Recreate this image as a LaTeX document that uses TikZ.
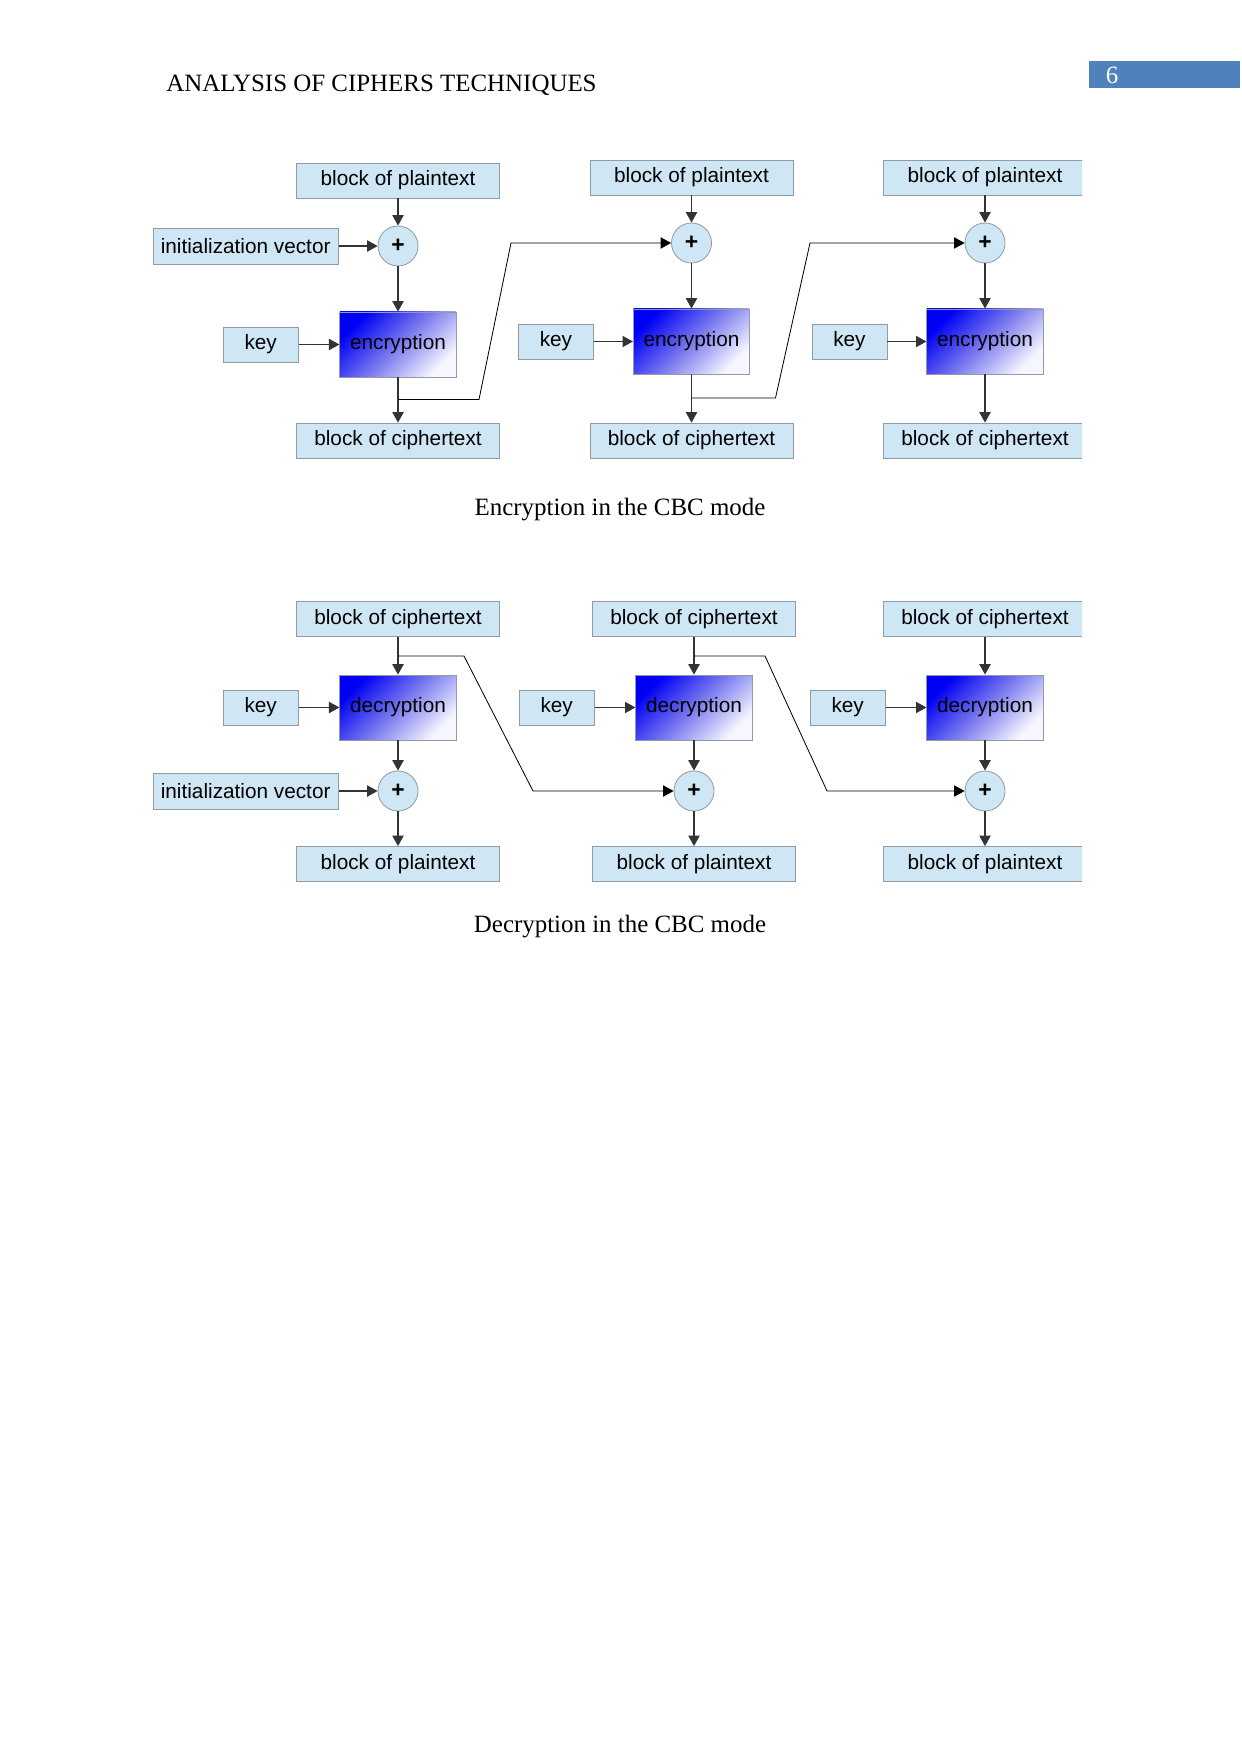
\documentclass[tikz,border=0pt]{standalone}
\usepackage{fontspec}
\setmainfont{Liberation Serif}
\setsansfont{Liberation Sans}
\usetikzlibrary{arrows.meta,positioning,calc}
\definecolor{cbcbox}{RGB}{207,231,245}
\definecolor{cbcline}{RGB}{145,155,165}
\definecolor{pagebar}{RGB}{79,129,189}
\tikzset{
  cbcarr/.style={-{Triangle[length=5pt,width=5.4pt]}, line width=0.6pt, draw=black!80},
  cbcfeed/.style={cbcarr, line width=0.4pt, draw=black},
  cbcnode/.style={draw=cbcline, fill=cbcbox, inner sep=0pt, font=\sffamily\fontsize{10}{12}\selectfont},
}

\begin{document}
\begin{tikzpicture}[
  x=0.016922cm, y=-0.016922cm,
  blk/.style={cbcnode, minimum width=34.35mm, minimum height=5.92mm},
  keyb/.style={cbcnode, minimum width=12.7mm, minimum height=5.9mm},
  ivb/.style={cbcnode, minimum width=31.3mm, minimum height=6.1mm},
  xorc/.style={cbcnode, circle, minimum size=6.77mm, font=\sffamily\bfseries\fontsize{11}{12}\selectfont},
  ciph/.style={draw=cbcline, inner sep=0pt, minimum width=19.7mm, minimum height=11mm,
    top color={rgb,255:red,0;green,0;blue,245}, bottom color={rgb,255:red,246;green,246;blue,255},
    middle color={rgb,255:red,120;green,120;blue,238}, shading angle=45,
    font=\sffamily\fontsize{10}{12}\selectfont},
  capt/.style={font=\fontsize{12}{14}\selectfont},
]
  \useasboundingbox (0,0) rectangle (1241,1754);

  % page head
  \node[capt, anchor=west, inner sep=0pt] (head) at (166,85) {ANALYSIS OF CIPHERS TECHNIQUES};
  \node[fill=pagebar, inner sep=0pt, minimum width=25.55mm, minimum height=4.57mm] (pgbar) at (1164.5,74.5) {};
  \node[capt, text=white] (pgnum) at (1112,75) {6};

  \begin{scope}
  \clip (0,0) rectangle (1082,1754);

  % encryption
  \node[blk] (P1) at (398,180.5) {block of plaintext};
  \node[xorc] (X1) at (398,246) {+};
  \node[ciph] (E1) at (398,344.5) {encryption};
  \node[keyb, left=6.9mm of E1] (K1) {key};
  \node[ivb, left=6.6mm of X1] (IV1) {initialization vector};
  \node[blk] (C1) at (398,440.5) {block of ciphertext};
  \foreach \i/\xx in {2/691.5,3/985} {
    \node[blk] (P\i) at (\xx,177.5) {block of plaintext};
    \node[xorc] (X\i) at (\xx,243) {+};
    \node[ciph] (E\i) at (\xx,341.5) {encryption};
    \node[keyb, left=6.6mm of E\i] (K\i) {key};
    \node[blk] (C\i) at (\xx,440.5) {block of ciphertext};
  }
  \foreach \i in {1,2,3} {
    \draw[cbcarr] (P\i) -- (X\i);
    \draw[cbcarr] (X\i) -- (E\i);
    \draw[cbcarr] (K\i) -- (E\i);
    \draw[cbcarr] (E\i) -- (C\i);
  }
  \draw[cbcarr] (IV1) -- (X1);
  \coordinate (fb1) at (398,399.5);
  \coordinate (fk1) at (479,399.5);
  \coordinate (ft1) at (511,243);
  \coordinate (fb2) at (691.5,398);
  \coordinate (fk2) at (775.5,398);
  \coordinate (ft2) at (810,243);
  \draw[cbcfeed] (fb1) -- (fk1) -- (ft1) -- (X2);
  \draw[cbcfeed] (fb2) -- (fk2) -- (ft2) -- (X3);

  % decryption
  \foreach \i/\xx in {1/398,2/694,3/985} {
    \node[blk] (DC\i) at (\xx,619) {block of ciphertext};
    \node[ciph] (DD\i) at (\xx,707.5) {decryption};
    \node[keyb, left=6.9mm of DD\i] (DK\i) {key};
    \node[xorc] (DX\i) at (\xx,791) {+};
    \node[blk] (DP\i) at (\xx,864) {block of plaintext};
    \draw[cbcarr] (DC\i) -- (DD\i);
    \draw[cbcarr] (DK\i) -- (DD\i);
    \draw[cbcarr] (DD\i) -- (DX\i);
    \draw[cbcarr] (DX\i) -- (DP\i);
  }
  \node[ivb, left=6.6mm of DX1] (DIV) {initialization vector};
  \draw[cbcarr] (DIV) -- (DX1);
  \coordinate (gb1) at (398,656);
  \coordinate (gk1) at (464,656);
  \coordinate (gt1) at (533,791);
  \coordinate (gb2) at (694,656);
  \coordinate (gk2) at (765,656);
  \coordinate (gt2) at (827,791);
  \draw[cbcfeed] (gb1) -- (gk1) -- (gt1) -- (DX2);
  \draw[cbcfeed] (gb2) -- (gk2) -- (gt2) -- (DX3);
  \end{scope}

  \node[capt] (capE) at (620,510) {Encryption in the CBC mode};
  \node[capt] (capD) at (620,927) {Decryption in the CBC mode};
\end{tikzpicture}
\end{document}
